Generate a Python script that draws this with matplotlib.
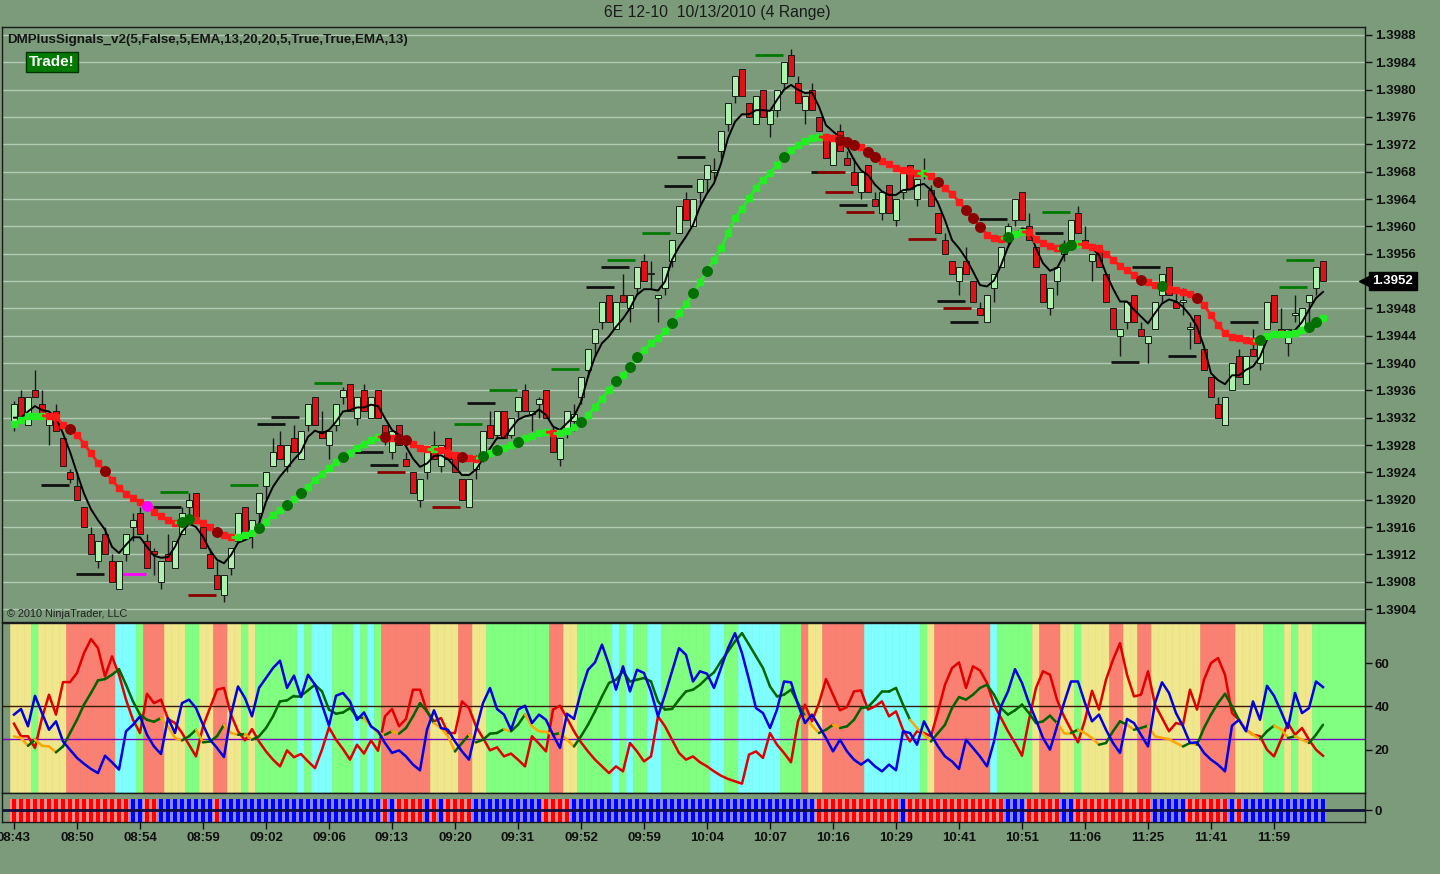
import numpy as np
import matplotlib
matplotlib.use("Agg")
import matplotlib.pyplot as plt
from matplotlib.transforms import blended_transform_factory

plt.rcParams['font.family'] = ['Liberation Sans', 'DejaVu Sans']

# prices are in pips above 1.3900 (4 tick range bars)
opens = [31, 35, 31, 36, 34, 31, 33, 29, 24, 22,
         19, 15, 11, 15, 11, 7, 12, 16, 18, 14,
         12.5, 8, 12, 10, 15, 19, 21, 16, 12, 9,
         6, 10, 14, 19, 15, 18, 22, 25, 28, 25,
         29, 26, 31, 35, 30, 28, 31, 35, 37, 32,
         36, 32, 36, 31, 27, 31, 26, 24, 20, 24,
         28, 25, 29, 27, 23, 19, 24.5, 27, 31, 29.5,
         33, 29.5, 33, 36, 32.5, 34, 36, 30, 26, 30,
         31.5, 35, 39, 43, 46, 50, 45, 50, 48, 51,
         55, 53, 49.5, 51, 55, 59, 64, 60, 65, 67,
         68, 71, 75, 79, 83, 78, 75, 80, 75, 77,
         81, 85, 81, 77, 80, 76, 73, 69, 74, 70,
         68, 65, 69, 64, 62, 66, 61, 65, 69, 64,
         68, 65.3, 62, 58, 55, 52, 55, 52, 48, 46,
         51, 54, 59, 61, 65, 60, 57, 53, 48, 52,
         56, 58, 62, 58, 55, 57, 53, 48, 44, 46,
         50, 45, 43, 45, 50, 54, 49, 49, 45, 47,
         42, 38, 34, 31, 36, 41, 37, 42, 40, 45,
         50, 45, 43, 47, 45, 49, 51, 55]
highs = [34.5, 36, 35, 39, 36, 32, 34, 29, 24.5, 24,
         19, 16, 14, 16, 12, 11, 15, 18, 19, 15,
         13, 11, 15, 14, 19, 21, 21, 17, 13, 11,
         9, 13, 18, 19, 17, 21, 24, 29, 30, 28,
         31, 30, 34, 35, 33, 30, 34, 36.5, 37, 35,
         37, 35, 36, 31, 30, 31, 27, 24, 23, 27,
         30, 28, 29, 27, 23, 23, 26.5, 30, 33, 33,
         33, 32, 35, 37, 33, 35, 36, 31, 29, 33,
         34, 38, 42, 45, 49, 50, 49, 53, 50, 54,
         56, 55, 50, 54, 58, 63, 65, 64, 67, 69,
         70, 74, 78, 82, 83, 78, 79, 80, 77, 80,
         84, 86, 82, 79, 81, 76, 73, 73, 75, 71,
         70, 68, 69, 65, 65, 66, 64, 68, 69, 67,
         70, 66, 62, 59, 55, 54, 57, 52, 49, 50,
         53, 57, 60.5, 64, 65, 62, 57, 53, 51, 54,
         58, 61, 63, 60, 56, 57, 53, 48, 45, 49,
         50, 46, 44, 49, 53, 54, 51, 51, 46, 47,
         42, 38, 35, 35, 40, 42, 41, 45, 43, 49,
         50, 48, 45, 50, 48, 50, 54, 55]
lows = [30, 32, 31, 35, 32, 28, 30, 25, 22.5, 20,
        16, 12, 10, 12, 8, 7, 11, 14, 15, 10,
        9, 7, 11, 10, 15, 17, 17, 13, 10, 7,
        5, 9, 14, 15, 13, 17, 20, 25, 26, 24,
        27, 26, 30, 31, 29, 26, 30, 34, 33, 31,
        33, 32, 32, 28, 26, 28, 25, 21, 19, 23,
        26, 24, 26, 24, 20, 19, 23, 25.5, 29, 29,
        29, 29, 32, 33, 30, 32, 32, 27, 25, 29,
        30, 34, 38, 41, 45, 46, 45, 49, 46, 50,
        52, 51, 46, 50, 54, 59, 61, 60, 63, 65,
        67, 70, 74, 78, 79, 76, 75, 76, 73, 76,
        80, 82, 78, 75, 77, 74, 70, 69, 71, 69,
        66, 64, 65, 63, 61, 62, 60, 64, 65.5, 63,
        67, 63, 59, 56, 53, 50, 53, 49, 47, 46,
        49, 54, 57, 60, 61, 58, 54, 49, 47, 50,
        55, 57, 59, 57, 52, 54, 49, 45, 41, 45,
        46, 44, 40, 45, 49, 50, 48, 47, 42, 43,
        39, 35, 32, 31, 36, 38, 37, 41, 39, 45,
        46, 44, 41, 46, 45, 46, 50, 52]
closes = [34, 32, 35, 35, 32, 32, 30, 25, 23, 20,
          16, 12, 14, 12, 8, 11, 15, 17, 15, 10,
          12, 11, 11, 14, 18, 20, 17, 13, 10, 7,
          9, 13, 18, 15, 17, 21, 24, 27, 26, 28,
          27, 30, 34, 31, 29, 30, 34, 36, 33, 35,
          33, 35, 32, 29, 30, 28, 25, 21, 23, 27,
          26, 28, 26, 24, 20, 23, 26, 30, 29, 33,
          29, 32, 35, 33, 33, 34.8, 32, 27, 29, 33,
          32.5, 38, 42, 45, 49, 46, 49, 49, 50, 54,
          52, 53.2, 50, 54, 58, 63, 61, 64, 67, 69,
          68.3, 74, 78, 82, 79, 76, 79, 76, 77, 80,
          84, 82, 78, 79, 77, 74, 70, 73, 71, 69,
          66, 68, 65, 63, 65, 62, 64, 68, 65.5, 67,
          67.3, 63, 59, 56, 53, 54, 53, 49, 47, 50,
          53, 57, 60, 64, 61, 58, 54, 49, 51, 54,
          57, 61, 59, 57, 56, 54, 49, 45, 45, 49,
          46, 44, 44, 49, 53, 50, 48, 49.2, 45.3, 43,
          39, 35, 32, 35, 40, 38, 41, 41, 43, 49,
          46, 44, 45, 47.3, 48, 50, 54, 52]

fast_line = [32.0, 32.0, 32.9, 33.7, 33.1, 32.9, 32.0, 29.7, 27.0, 23.9,
             20.9, 18.6, 17.0, 15.6, 13.1, 12.2, 13.4, 14.5, 14.5, 13.1,
             11.8, 11.5, 11.6, 13.1, 15.3, 16.5, 16.0, 14.6, 12.6, 11.2,
             10.7, 11.9, 13.7, 14.1, 14.6, 16.5, 19.7, 21.9, 23.4, 24.6,
             25.9, 27.0, 29.2, 30.1, 29.7, 30.2, 31.4, 32.9, 33.1, 33.5,
             33.5, 33.9, 33.7, 31.9, 30.2, 29.5, 27.8, 26.0, 24.8, 25.3,
             26.4, 26.5, 25.9, 24.8, 23.6, 23.6,
             24.4, 26.0, 27.5, 29.0, 29.0, 30.4, 31.7, 32.2, 32.4, 33.2,
             32.4, 30.7, 30.2, 31.2, 32.2, 34.3, 38.0, 40.9, 42.9, 43.9,
             45.3, 46.5, 48.0, 50.0, 50.8, 50.8, 50.6, 51.9, 55.1, 57.0,
             58.5, 60.2, 62.9, 64.8, 66.3, 69.2, 72.9, 75.3, 76.4, 76.4,
             77.0, 77.0, 76.9, 78.5, 80.0, 80.7, 80.0, 79.5, 79.6, 77.5,
             74.8, 73.9, 73.0, 71.7, 69.7, 68.2, 67.5, 66.1, 65.1, 64.6,
             64.6,
             65.3, 65.4, 66.0, 66.2, 65.3, 63.4, 60.9, 58.0, 56.8, 55.3,
             53.4, 51.4, 51.2, 52.1, 54.3, 57.0, 58.7, 59.7, 59.5, 56.8,
             54.6, 53.5, 53.9, 55.8, 57.0, 57.3, 57.1, 56.8, 55.8, 53.1,
             50.9, 49.0, 49.0, 47.8, 46.8, 45.8, 47.3, 48.7, 49.3, 49.0,
             48.2, 47.0, 45.3, 42.4, 38.5, 37.5, 36.9, 38.2, 38.2, 39.0,
             39.5, 40.9, 43.4, 44.3, 44.3, 44.6, 44.8, 46.0, 47.8, 49.5,
             50.4]
slow_line = [31.1, 31.7, 32.2, 32.3, 32.3, 32.2, 32.1, 30.9, 30.4, 29.5,
             28.2, 26.8, 25.4, 24.2, 22.9, 21.7, 20.9, 20.3, 19.7, 19.1,
             18.2, 17.6, 17.0, 16.6, 16.8, 17.1, 17.0, 16.6, 16.0, 15.3,
             14.8, 14.5, 14.5, 14.8, 15.1, 15.8, 16.8, 17.8, 18.5, 19.2,
             20.1, 21.0, 21.9, 22.9, 23.8, 24.7, 25.5, 26.3, 26.9, 27.6,
             28.1, 28.7, 29.2, 29.1, 29.0, 28.9, 28.7, 28.1, 27.6, 27.4,
             27.4, 27.3, 26.9, 26.5, 26.3, 26.1,
             26.0, 26.4, 26.8, 27.2, 27.5, 28.0, 28.5, 29.0, 29.3, 29.7,
             29.9, 29.8, 29.8, 30.1, 30.6, 31.3, 32.4, 33.6, 34.8, 36.1,
             37.3, 38.2, 39.4, 40.9, 41.9, 42.9, 43.6, 44.7, 45.9, 47.3,
             48.7, 50.2, 51.8, 53.5, 55.1, 56.8, 59.0, 61.2, 62.6, 64.1,
             65.6, 66.8, 67.8, 69.0, 70.2, 71.2, 71.9, 72.5, 72.9, 73.1,
             73.0, 72.9, 72.7, 72.4, 71.9, 71.6, 70.9, 70.2, 69.6, 69.1,
             68.6,
             68.3, 68.1, 67.8, 67.8, 67.3, 66.5, 65.6, 64.7, 63.6, 62.4,
             61.2, 59.9, 58.8, 58.3, 58.2, 58.5, 58.9, 59.2, 59.1, 58.2,
             57.5, 57.1, 56.9, 56.9, 57.3, 57.4, 57.3, 57.0, 56.8, 56.0,
             55.1, 54.2, 53.6, 52.9, 52.2, 51.8, 51.4, 51.2, 50.9, 50.7,
             50.4, 50.1, 49.5, 48.5, 47.0, 45.6, 44.4, 43.8, 43.6, 43.4,
             43.2, 43.4, 43.9, 44.2, 44.2, 44.3, 44.4, 44.8, 45.3, 46.0,
             46.6]

# signal dots on the slow line
sell_bars = [8, 13, 29, 53, 55, 56, 64, 118, 119, 120, 122, 123, 132, 136, 137, 138, 161, 169]
buy_bars = [24, 25, 35, 39, 41, 47, 67, 69, 72, 81, 86, 88, 89, 94, 97, 99, 110,
            142, 150, 151, 164, 178, 185, 186]
warn_bars = [19]

# target / stop dashes: (first bar, level in pips, kind)
dashes = [(4.1, 22.1, 'k'), (9.1, 9.1, 'k'), (15.1, 9.1, 'm'), (21.1, 21.1, 'g'),
          (20.1, 18.9, 'k'), (25.1, 6.0, 'r'), (31.1, 22.1, 'g'), (43.1, 37.1, 'g'),
          (37.0, 32.1, 'k'), (35.0, 31.1, 'k'), (49.0, 27.0, 'k'), (51.1, 25.1, 'k'),
          (52.1, 24.0, 'r'), (60.0, 18.9, 'r'), (65.0, 34.1, 'k'), (63.1, 31.1, 'g'),
          (68.1, 36.0, 'g'), (77.0, 39.1, 'g'), (82.0, 51.1, 'k'), (84.1, 54.0, 'k'),
          (85.0, 55.1, 'g'), (90.0, 59.0, 'g'), (93.1, 65.9, 'k'), (95.0, 70.1, 'k'),
          (106.1, 85.1, 'g'), (114.1, 68.0, 'k'), (115.0, 68.0, 'r'), (116.1, 65.0, 'r'),
          (118.1, 63.1, 'k'), (119.1, 62.1, 'r'), (128.0, 58.1, 'r'), (138.1, 61.1, 'k'),
          (147.1, 62.1, 'g'), (146.1, 59.0, 'k'), (132.1, 49.1, 'k'), (133.0, 48.0, 'r'),
          (134.0, 46.0, 'k'), (160.0, 54.0, 'k'), (157.0, 40.1, 'k'), (165.1, 41.0, 'k'),
          (174.0, 46.0, 'k'), (181.0, 51.1, 'g'), (182.0, 55.1, 'g')]

# DMI panel
di_minus = [32, 26.2, 26.2, 20.8, 34.6, 45.4, 36.2, 51.2, 51.2, 55.4,
            64.6, 71.1, 66.9, 53.8, 63.1, 54.6, 43.1, 33.8, 27.7, 45.8,
            41.5, 43.1, 34.2, 32.3, 27.7, 22.3, 16.9, 30.8, 39.2, 47.7,
            48.5, 36.2, 28.5, 24.3, 29.5, 23.8, 19.2, 15.4, 12.3, 19.7,
            16.5, 18, 14.6, 11.5, 20, 30.3, 24.6, 20.3, 15.4, 22.3,
            18.2, 24.3, 19.5, 35.4, 38.8, 30.8, 34.2, 47.7, 47.7, 37.7,
            33.1, 34.6, 27.7, 27.7, 42.3, 39.2,
            30.8, 25.4, 19.7, 21.1, 16.9, 18.2, 15.4, 12.3, 26.2, 22.8,
            19.2, 38.5, 40.3, 34.6, 28.5, 23.4, 19.2, 15.4, 12.3, 9.2,
            12.3, 10, 23.1, 19.2, 14.6, 16.9, 35.4, 30.8, 24.6, 18.5,
            15.4, 16.9, 14.2, 12.3, 10, 8, 6.5, 5.4, 4.3, 17.7,
            19.2, 16.2, 27.7, 22.3, 18.5, 14.2, 33.1, 40.8, 33.1, 41.5,
            52.6, 45.4, 38.2, 39.7, 46.9, 47.4, 38.5, 40, 42.3, 35.4,
            37.7, 29.2, 23.8, 28.5, 27.7, 26.2, 37.7,
            50, 57.7, 60.3, 48.5, 58.5, 56.6, 50.8, 40.8, 34.6, 28.5,
            23.1, 17.2, 33.8, 48.5, 56.2, 54.6, 43.1, 35.4, 29.2, 23.4,
            33.8, 47.2, 38.5, 52.3, 61.5, 69.2, 54.6, 44.6, 45.4, 56.2,
            40.8, 34.6, 28.5, 32.3, 31.5, 47.7, 38.5, 52.3, 60, 62.3,
            54.6, 36.9, 33.8, 29.2, 26.9, 26.2, 20, 16.9, 24.6, 32.3,
            26.9, 30, 24.6, 20, 17.2]
di_plus = [36.2, 38.8, 30.8, 44.9, 36.9, 29.2, 33.1, 23.8, 20, 16.2,
           13.5, 11.1, 9.2, 17.2, 14.2, 10.8, 28.5, 31.5, 35.4, 26.9,
           21.5, 18, 34.6, 27.7, 41.5, 43.1, 39.2, 31.5, 24.6, 20.8,
           16.6, 36.2, 49.2, 43.8, 35.4, 48.5, 53.1, 57.7, 61.1, 48.5,
           54.2, 44.3, 54.6, 50, 40.8, 31.1, 44.9, 46.2, 42.3, 33.8,
           37.2, 30.8, 28.5, 23.1, 18.5, 19.7, 16.9, 13.1, 10.5, 29.2,
           38.2, 30, 29.2, 23.8, 19.2, 15.4,
           29.2, 41.5, 48.5, 38.8, 36.2, 29.2, 38.5, 40.3, 32.3, 36.2,
           33.8, 26.9, 20.8, 36.6, 34.2, 46.9, 56.9, 60.3, 68.5, 59.2,
           47.7, 58.5, 46.9, 56.9, 55.4, 46.9, 35.4, 45.4, 56.2, 66.9,
           63.8, 51.5, 56.2, 55.1, 48.5, 57.7, 66.9, 73.8, 64.6, 52.3,
           39.2, 36.9, 30, 38.5, 51.5, 51.1, 40.8, 32.3, 36.2, 30.8,
           25.4, 19.2, 24.6, 19.2, 15.4, 13.1, 15.4, 12.3, 10, 13.1,
           10.5, 28.5, 27.7, 22.3, 33.1, 26.9, 21.5, 16.9,
           14.6, 11.1, 24.6, 20.8, 16.9, 12.3, 23.8, 40, 46.9, 57.2,
           50.8, 41.5, 33.8, 25.4, 20, 30.8, 41.5, 51.5, 51.5, 41.5,
           33.1, 36.2, 29.2, 23.1, 18.5, 34.2, 32.3, 26.9, 21.5, 41.5,
           51.1, 46.2, 36.9, 30.8, 23.1, 23.4, 18.5, 15.4, 13.1, 10,
           31.1, 33.8, 28.5, 42.3, 33.8, 49.5, 44.9, 37.7, 30, 46.2,
           36.9, 39.2, 51.5, 48.9]
adx = [26.2, 25.4, 21.8, 24.6, 21.8, 21.5, 18.8, 21.5, 27.7, 33.8,
       40.8, 46.2, 52, 52.6, 54.6, 57.2, 50, 42.3, 36.2, 33.8,
       32.9, 34.6, 30.8, 25.4, 24.3, 26.2, 29.2, 23.4, 23.8, 26.2,
       31.5, 27.7, 26.9, 27.2, 24.6, 26.2, 30, 35.4, 42.3, 42.8,
       44.9, 44.9, 47.4, 50, 46.9, 38.5, 36.6, 37.2, 39.2, 35.1,
       34.6, 30.8, 27.7, 26.9, 28.5, 27.4, 30, 35.4, 41.5, 37.7,
       32.3, 30, 26.2, 19.2, 23.1, 26.9,
       23.4, 24.6, 27.4, 27.7, 29.5, 28.5, 31.5, 36.2, 30.8, 28.5,
       28.2, 26.9, 27.7, 24.6, 21.5, 26.2, 31.5, 37.7, 44.6, 50.8,
       52.3, 56.2, 51.5, 52.3, 53.1, 51.5, 42.3, 38.5, 38.8, 43.1,
       46.9, 47.7, 50, 53.1, 55.7, 60.8, 65.4, 70, 73.8, 68.5,
       63.1, 57.7, 49.2, 44.6, 45.4, 47.7, 41.5, 35.4, 31.1, 27.7,
       29.2, 31.5, 30, 30.8, 33.8, 39.2, 39.7, 43.1, 46.9, 46.9,
       48.5, 40.8, 33.8, 30, 26.9, 23.8, 27.7,
       31.5, 39.2, 44.3, 43.1, 45.4, 48.5, 50, 45.4, 39.2, 36.2,
       38.2, 40.8, 36.9, 32.3, 33.1, 35.7, 32.3, 27.7, 27.7, 29.2,
       27.7, 25.4, 22.3, 23.1, 28.5, 33.1, 31.5, 29.2, 30, 31.1,
       26.2, 25.4, 24.9, 23.1, 21.5, 23.1, 22.3, 30, 36.2, 41.5,
       45.8, 40, 33.8, 29.2, 26.9, 24.9, 28.5, 31.1, 29.5, 25.4,
       26.2, 24.6, 23.1, 26.9, 31.5]

# background state of each bar: y=weak, g=up trend, r=down trend, c=strong up
band_runs = [('y', 3), ('g', 1), ('y', 4), ('r', 7), ('c', 3), ('g', 1), ('r', 3), ('y', 3),
             ('g', 2), ('y', 2), ('r', 2), ('y', 2), ('g', 1), ('y', 1), ('g', 6), ('c', 1),
             ('g', 1), ('c', 3), ('g', 3), ('c', 1), ('g', 1), ('c', 1), ('g', 1), ('r', 7),
             ('y', 4), ('r', 2), ('y', 2), ('g', 9), ('r', 2), ('y', 2), ('g', 5), ('c', 1),
             ('g', 1), ('c', 1), ('g', 2), ('c', 2), ('g', 7), ('c', 2), ('g', 2), ('c', 6),
             ('g', 3), ('r', 1), ('y', 2), ('r', 6), ('c', 8), ('g', 1), ('y', 1), ('r', 8),
             ('c', 1), ('g', 5), ('y', 1), ('r', 3), ('y', 2), ('g', 1), ('y', 4), ('r', 2),
             ('y', 2), ('r', 2), ('y', 7), ('r', 5), ('y', 4), ('g', 3), ('y', 1), ('g', 1),
             ('y', 2), ('g', 2)]
# bottom strip: r = short bias, b = long bias
bias_runs = [('r', 17), ('b', 2), ('r', 2), ('b', 8), ('r', 1), ('b', 23), ('r', 1), ('b', 1),
             ('r', 4), ('b', 1), ('r', 1), ('b', 1), ('r', 4), ('b', 10), ('r', 4), ('b', 35),
             ('r', 12), ('b', 1), ('r', 14), ('b', 3), ('r', 5), ('b', 2), ('r', 11), ('b', 5),
             ('r', 6), ('b', 1), ('r', 1), ('b', 12)]

time_labels = ["08:43", "08:50", "08:54", "08:59", "09:02", "09:06", "09:13", "09:20",
               "09:31", "09:52", "09:59", "10:04", "10:07", "10:16", "10:29", "10:41",
               "10:51", "11:06", "11:25", "11:41", "11:59"]

n = len(closes)
for arr in (opens, highs, lows, fast_line, slow_line, di_minus, di_plus, adx):
    assert len(arr) == n, len(arr)
bands = ''.join(c * k for c, k in band_runs)
bias = ''.join(c * k for c, k in bias_runs)
assert len(bands) == n and len(bias) == n

x = np.arange(n)
o = np.array(opens, float)
c = np.array(closes, float)
h = np.array(highs, float)
l = np.array(lows, float)
slow = np.array(slow_line)

BG = '#7b9b7b'
W, H = 1440, 874
fig = plt.figure(figsize=(W / 100, H / 100), dpi=100, facecolor=BG)


def rect(x0, y0, x1, y1):
    return [x0 / W, 1 - y1 / H, (x1 - x0) / W, (y1 - y0) / H]


ax = fig.add_axes(rect(2, 27, 1365, 622), facecolor=BG)
ax_i = fig.add_axes(rect(2, 623, 1365, 793), facecolor=BG, sharex=ax)
ax_b = fig.add_axes(rect(2, 793, 1365, 822), facecolor=BG, sharex=ax)
ax.set_xlim(-1.714, 193.0)

# ---- price panel
ax.set_ylim(2.1, 89.17)
ax.set_yticks(np.arange(4, 89, 4))
ax.set_yticklabels(['1.39%02d' % p for p in range(4, 89, 4)])
ax.grid(axis='y', color='#b3cab3', lw=1)
ax.set_axisbelow(True)

ax.vlines(x, l, h, color='#1a1a1a', lw=1, zorder=2)
up = c >= o
ax.bar(x, np.maximum(np.abs(c - o), 0.12), bottom=np.minimum(o, c), width=0.74,
       color=np.where(up, '#aef0ae', '#e01218'), edgecolor='#1a1a1a', lw=0.7, zorder=3)

for s, lev, kind in dashes:
    col = {'k': '#111111', 'g': '#007a00', 'r': '#8b0000', 'm': '#ff00ff'}[kind]
    ax.hlines(lev, s - 0.3, s + 3.7, color=col, lw=2, zorder=2)

ax.plot(x, fast_line, color='black', lw=1.4, zorder=4)
for i in range(1, n):
    col = '#22ee22' if slow[i] >= slow[i - 1] else '#ff1a1a'
    ax.plot([i - 1, i], [slow[i - 1], slow[i]], color=col, lw=2.0, zorder=5,
            solid_capstyle='butt')
    ax.plot(i, slow[i], 's', color=col, ms=3.8, zorder=5)
ax.plot(0, slow[0], 's', color='#22ee22', ms=3.8, zorder=5)
ax.scatter(sell_bars, slow[sell_bars], s=62, color='#8b0000', zorder=6, lw=0)
ax.scatter(buy_bars, slow[buy_bars], s=62, color='#007000', zorder=6, lw=0)
ax.scatter(warn_bars, slow[warn_bars], s=62, color='#ff00ff', zorder=6, lw=0)

ax.text(0.0037, 0.978, 'DMPlusSignals_v2(5,False,5,EMA,13,20,20,5,True,True,EMA,13)',
        transform=ax.transAxes, fontsize=9.6, fontweight='bold', color='#151515',
        va='center', ha='left')
ax.text(0.0367, 0.941, 'Trade!', transform=ax.transAxes, fontsize=11, fontweight='bold',
        color='white', va='center', ha='center',
        bbox=dict(boxstyle='square,pad=0.18', fc='#007a00', ec='#003300', lw=1))
ax.text(0.0037, 0.0134, '\u00a9 2010 NinjaTrader, LLC', transform=ax.transAxes,
        fontsize=7.8, color='#202020', va='center', ha='left')

tr = blended_transform_factory(ax.transAxes, ax.transData)
last = closes[-1]
ax.plot([1.0005], [last], marker='<', ms=10, color='black', transform=tr,
        clip_on=False, zorder=10)
ax.text(1.0205, last, '1.39%02d' % last, transform=tr, ha='center', va='center',
        color='white', fontsize=9.5, fontweight='bold', zorder=11,
        bbox=dict(boxstyle='square,pad=0.25', fc='black', ec='black'))

# ---- DMI panel
band_col = {'y': '#f0e68c', 'g': '#80ff80', 'r': '#fa8072', 'c': '#80ffff'}
bc = [band_col[b] for b in bands]
ax_i.bar(x, 100, width=1.0, color=bc, edgecolor=bc, lw=0.4, zorder=0)
ax_i.axvspan(n - 0.5, 193.0, color=bc[-1], lw=0, zorder=0)
ax_i.set_ylim(0, 78.5)
ax_i.axhline(40, color='#3a1a00', lw=1, zorder=1)
ax_i.axhline(25, color='#7a00c0', lw=1, zorder=1)
ax_i.plot(x, di_minus, color='#e00000', lw=1.8, zorder=3)
ax_i.plot(x, di_plus, color='#0000e0', lw=1.8, zorder=4)
a = np.array(adx)
for i in range(1, n):
    fading = a[i] <= a[i - 1] and a[i] < 31.5
    ax_i.plot([i - 1, i], [a[i - 1], a[i]], color='#ffa500' if fading else '#006400',
              lw=1.8, zorder=3, solid_capstyle='round')
ax_i.set_yticks([20, 40, 60])

# ---- bias strip
bias_light = {'r': '#ff8a8a', 'b': '#8a8aff'}
bias_dark = {'r': '#ff0000', 'b': '#0000ff'}
ax_b.bar(x, 2, bottom=-1, width=1.0, color=[bias_light[b] for b in bias], lw=0)
ax_b.bar(x, 2, bottom=-1, width=0.7, color=[bias_dark[b] for b in bias], lw=0)
ax_b.axhline(0, color='#101040', lw=2)
ax_b.set_ylim(-1, 1.52)
ax_b.set_yticks([0])
ax_b.set_xticks(x[::9])
ax_b.set_xticklabels(time_labels)

for a_ in (ax, ax_i, ax_b):
    a_.yaxis.tick_right()
    a_.tick_params(axis='y', right=True, left=False, length=5, width=1, pad=2,
                   labelsize=9.5, colors='#101010')
    for t in a_.get_yticklabels():
        t.set_fontweight('bold')
    for sp in a_.spines.values():
        sp.set_color('#1a1a1a')
        sp.set_linewidth(1)
for a_ in (ax, ax_i):
    a_.tick_params(axis='x', bottom=False, labelbottom=False)
ax_b.tick_params(axis='x', length=5, width=1, pad=2, labelsize=9.5, colors='#101010')
for t in ax_b.get_xticklabels():
    t.set_fontweight('bold')

fig.text(717 / W, 1 - 12 / H, '6E 12-10  10/13/2010 (4 Range)', ha='center', va='center',
         fontsize=11.3, color='#1a1a1a')

fig.savefig('out.png', dpi=100, facecolor=BG)
